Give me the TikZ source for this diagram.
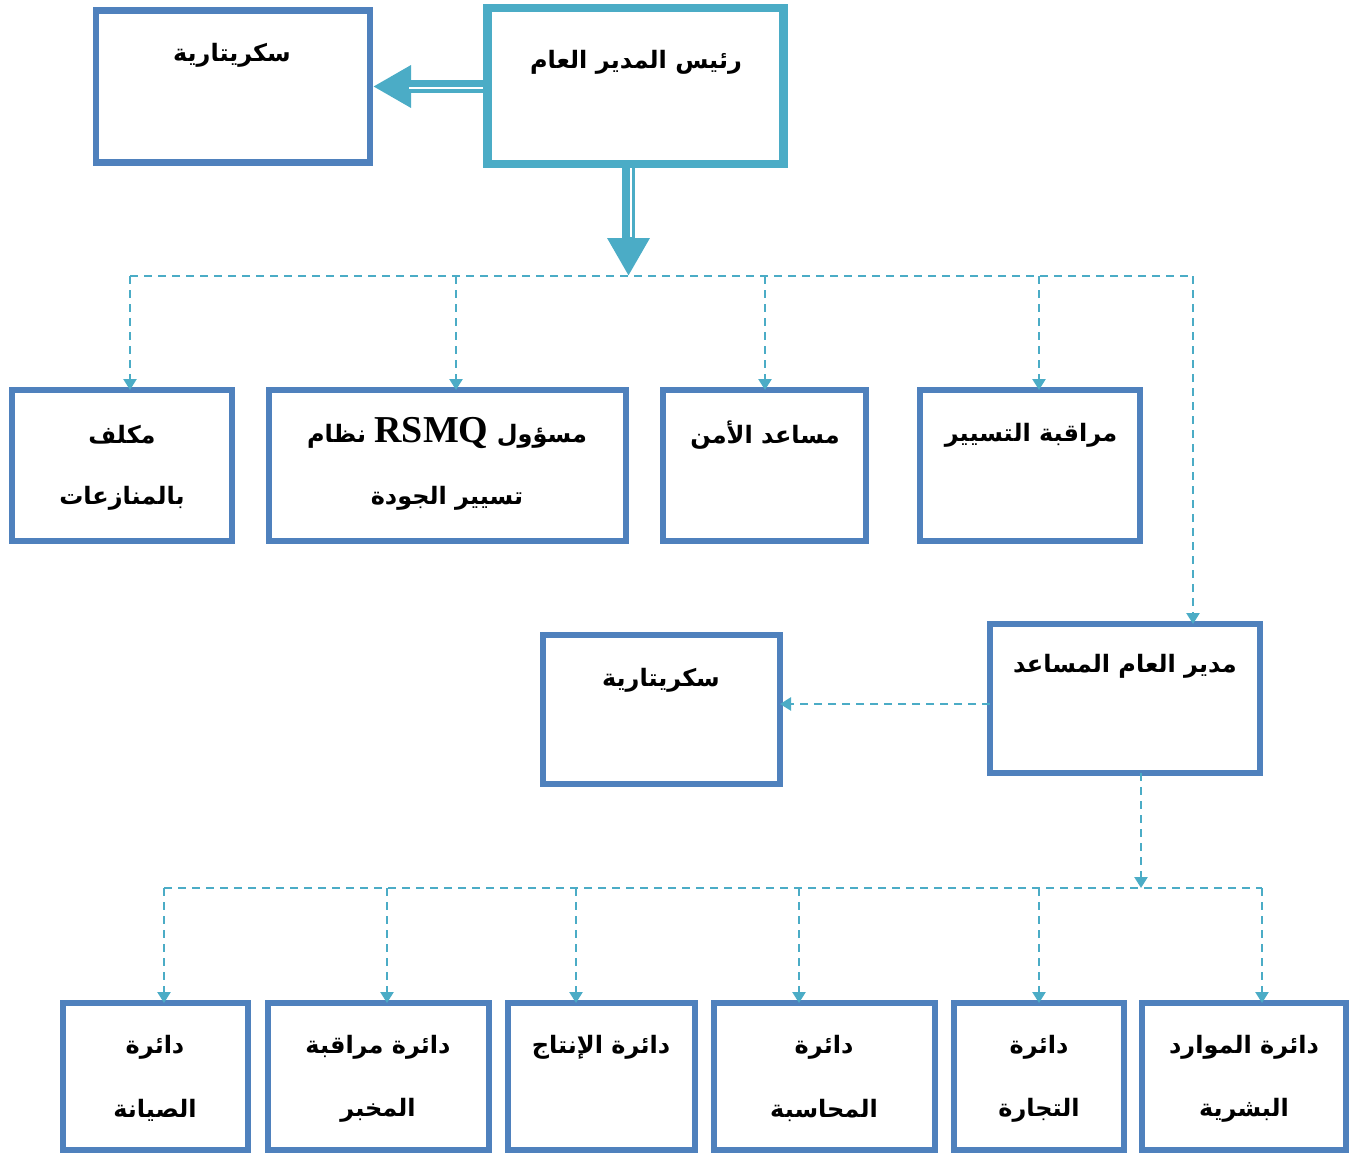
\documentclass[tikz,border=0pt]{standalone}
\usepackage{fontspec}
\usetikzlibrary{arrows.meta,calc}
\TeXXeTstate=1
\newfontfamily\arabicfont[Script=Arabic]{DejaVu Sans}
\newfontfamily\latinfont{Liberation Serif}
\definecolor{boxblue}{HTML}{4F81BD}
\definecolor{linkcyan}{HTML}{4BACC6}
\newcommand{\ar}[1]{\beginR #1\endR}
\begin{document}
\begin{tikzpicture}[x=1pt,y=-1pt,
  unit/.style={draw=boxblue, line width=6.5pt, fill=white, inner sep=0pt,
    minimum height=#1, outer sep=0pt},
  unit/.default=151pt,
  lbl/.style={font=\arabicfont\bfseries\fontsize{24}{28}\selectfont, inner sep=0pt, anchor=center},
  link/.style={draw=linkcyan, line width=2.4pt, dash pattern=on 8pt off 6pt},
  linkarrow/.style={link, -{Triangle[length=11pt,width=13pt]}},
  bigarrow/.style={draw=linkcyan, line width=13pt, -{Triangle[length=38pt,width=40pt]}},
  splitline/.style={draw=white, line width=2pt}
]
\useasboundingbox (0,0) rectangle (1351,1153);

% ---- top level ----
\node[unit=152pt, minimum width=274pt] (sec1) at (233,86.5) {};
\node[lbl] (tsec1) at (232,55) {\ar{سكريتارية}};

\node[draw=linkcyan, line width=8pt, fill=white, minimum width=297pt, minimum height=156pt, inner sep=0pt] (chief) at (635.5,86) {};
\draw[draw=linkcyan, line width=2.5pt] ([shift={(8pt,-6pt)}]chief.north west) rectangle ([shift={(-8pt,6pt)}]chief.south east);
\node[lbl] (tchief) at (636,62) {\ar{رئيس المدير العام}};

% heavy arrow to the secretariat
\draw[bigarrow] ([yshift=-0.5pt]chief.west -| 483,0) -- (sec1.east -| 373,0);
\draw[splitline] (483,88.5) -- (409,88.5);

% heavy arrow down to the bus
\coordinate (top) at (627,276);
\draw[bigarrow] (628.5,168) -- (628.5,276);
\draw[splitline] (630.5,168) -- (630.5,237);

% ---- second row ----
\node[unit, minimum width=220pt] (lit) at (122,465.5) {};
\node[unit, minimum width=357pt] (qual) at (447.5,465.5) {};
\node[unit, minimum width=203pt] (sec) at (764.5,465.5) {};
\node[unit, minimum width=220pt] (ctrl) at (1030,465.5) {};

\node[lbl] (tlit1) at (122,435) {\ar{مكلف}};
\node[lbl] (tlit2) at (122,498) {\ar{بالمنازعات}};
\node[lbl] (tqual1) at (447,433) {\ar{مسؤول \beginL{\latinfont\bfseries\fontsize{38}{40}\selectfont RSMQ}\endL{} نظام}};
\node[lbl] (tqual2) at (447,498) {\ar{تسيير الجودة}};
\node[lbl] (tsec) at (765,435) {\ar{مساعد الأمن}};
\node[lbl] (tctrl) at (1031,435) {\ar{مراقبة التسيير}};

\coordinate (b1) at (130,276);
\coordinate (b2) at (456,276);
\coordinate (b3) at (765,276);
\coordinate (b4) at (1039,276);
\coordinate (b5) at (1193,276);
\draw[link] (b1) -- (b5);
\draw[linkarrow] (b1) -- (b1 |- lit.north);
\draw[linkarrow] (b2) -- (b2 |- qual.north);
\draw[linkarrow] (b3) -- (b3 |- sec.north);
\draw[linkarrow] (b4) -- (b4 |- ctrl.north);

% ---- deputy director ----
\node[unit=149pt, minimum width=270pt] (dep) at (1125,698.5) {};
\node[lbl] (tdep) at (1125,666) {\ar{مدير العام المساعد}};
\node[unit=149pt, minimum width=237pt] (sec2) at (661.5,709.5) {};
\node[lbl] (tsec2) at (661,680) {\ar{سكريتارية}};

\draw[linkarrow] (b5) -- (b5 |- dep.north);
\draw[linkarrow] (dep.west |- 0,704) -- (sec2.east |- 0,704);

% ---- departments ----
\node[unit=147pt, minimum width=185pt] (d1) at (155.5,1076.5) {};
\node[unit=147pt, minimum width=221pt] (d2) at (378.5,1076.5) {};
\node[unit=147pt, minimum width=187pt] (d3) at (601.5,1076.5) {};
\node[unit=147pt, minimum width=221pt] (d4) at (824.5,1076.5) {};
\node[unit=147pt, minimum width=170pt] (d5) at (1039,1076.5) {};
\node[unit=147pt, minimum width=204pt] (d6) at (1244,1076.5) {};

\node[lbl] (td1a) at (155,1047) {\ar{دائرة}};
\node[lbl] (td1b) at (155,1110) {\ar{الصيانة}};
\node[lbl] (td2a) at (378,1047) {\ar{دائرة مراقبة}};
\node[lbl] (td2b) at (378,1110) {\ar{المخبر}};
\node[lbl] (td3a) at (601,1047) {\ar{دائرة الإنتاج}};
\node[lbl] (td4a) at (824,1047) {\ar{دائرة}};
\node[lbl] (td4b) at (824,1110) {\ar{المحاسبة}};
\node[lbl] (td5a) at (1039,1047) {\ar{دائرة}};
\node[lbl] (td5b) at (1039,1110) {\ar{التجارة}};
\node[lbl] (td6a) at (1244,1047) {\ar{دائرة الموارد}};
\node[lbl] (td6b) at (1244,1110) {\ar{البشرية}};

\coordinate (hub) at (1141,888);
\coordinate (c1) at (164,888);
\coordinate (c2) at (387,888);
\coordinate (c3) at (576,888);
\coordinate (c4) at (799,888);
\coordinate (c5) at (1039,888);
\coordinate (c6) at (1262,888);
\draw[linkarrow] (hub |- dep.south) -- (hub);
\draw[link] (c1) -- (c6);
\draw[linkarrow] (c1) -- (c1 |- d1.north);
\draw[linkarrow] (c2) -- (c2 |- d2.north);
\draw[linkarrow] (c3) -- (c3 |- d3.north);
\draw[linkarrow] (c4) -- (c4 |- d4.north);
\draw[linkarrow] (c5) -- (c5 |- d5.north);
\draw[linkarrow] (c6) -- (c6 |- d6.north);
\end{tikzpicture}
\end{document}
